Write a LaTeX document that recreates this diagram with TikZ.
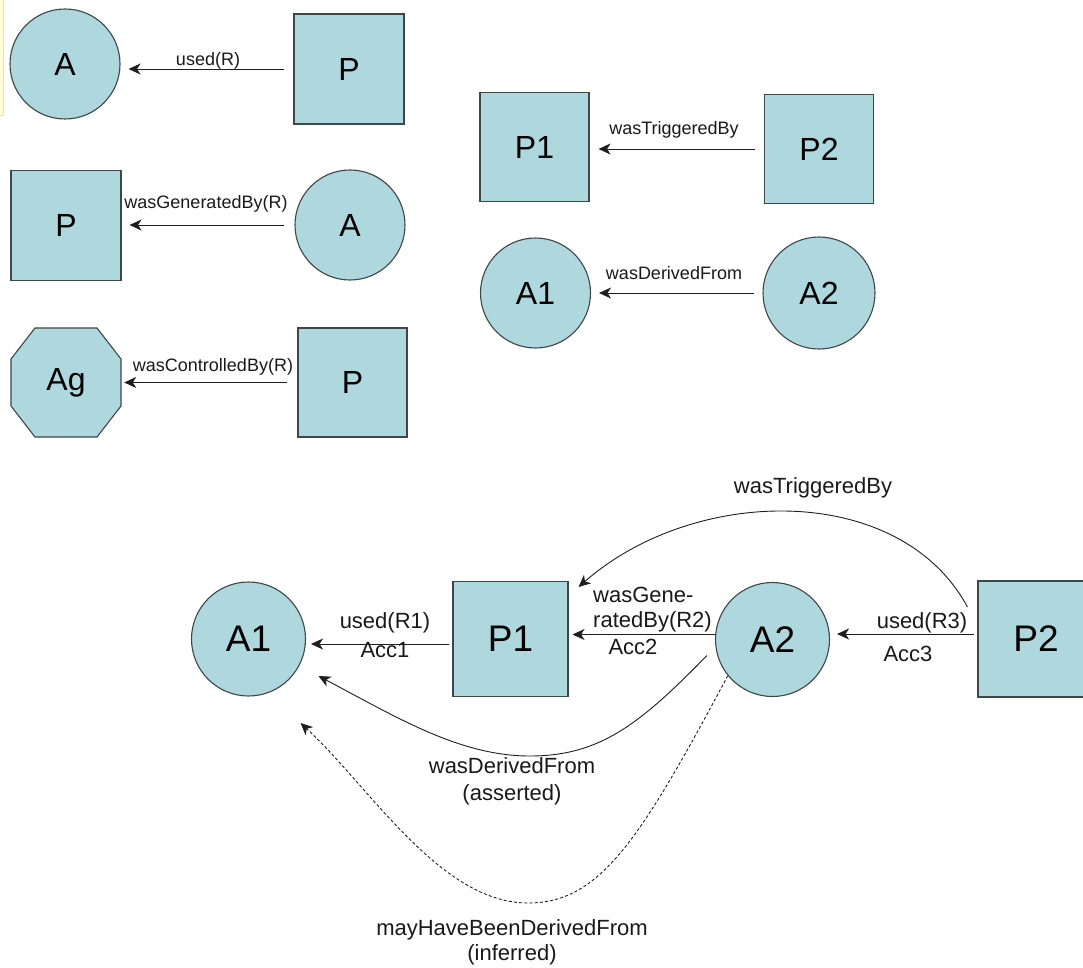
\documentclass[tikz,border=0pt]{standalone}
\usepackage{fontspec}
\setmainfont{Liberation Sans}
\usetikzlibrary{arrows.meta,calc}
\definecolor{nodefill}{RGB}{174,216,221}
\definecolor{nodeline}{RGB}{62,70,72}
\definecolor{edgeline}{RGB}{30,30,30}
\definecolor{noteyellow}{RGB}{255,252,214}
\definecolor{noteedge}{RGB}{242,230,140}

\tikzset{
  base/.style={draw=nodeline, fill=nodefill, line width=1.1pt, inner sep=0pt, text=black},
  art/.style={base, circle, minimum size=#1},
  proc/.style={base, rectangle, minimum width=#1, minimum height=#1},
  big/.style={font=\fontsize{32}{36}\selectfont},
  bigger/.style={font=\fontsize{37}{42}\selectfont},
  rel/.style={draw=edgeline, line width=0.9pt, -{Stealth[length=12pt,width=11pt,inset=3.5pt]}},
  guess/.style={rel, dash pattern=on 3pt off 2.2pt},
  lbl/.style={font=\fontsize{18}{22}\selectfont, inner sep=0pt, text=black!90},
  lblb/.style={font=\fontsize{22}{26}\selectfont, inner sep=0pt, text=black!90},
}

\begin{document}
\begin{tikzpicture}[x=1pt,y=-1pt]
\useasboundingbox (0,0) rectangle (1083,968);
\clip (0,0) rectangle (1083,968);

% thin note strip on the left edge
\fill[noteyellow] (0,0) rectangle (3,115);
\draw[noteedge, line width=0.8pt] (3,0) -- (3,115) -- (0,115);

% ---------- legend: single relations ----------
\node[art=110pt, big]  (tA)  at (65,64)    {A};
\node[proc=110pt, big] (tP)  at (349,69)   {P};
\draw[rel, shorten <=9pt, shorten >=8pt] (tP.west) -- (tP.west -| tA.east);
\node[lbl] at (208,61) {used(R)};

\node[proc=110pt, big] (tP2) at (66,225.5) {P};
\node[art=110pt, big]  (tA2) at (350,225)  {A};
\draw[rel, shorten <=10pt, shorten >=8pt] (tA2.west) -- (tA2.west -| tP2.east);
\node[lbl] at (206,204) {wasGeneratedBy(R)};

\filldraw[base, shift={(66,382.5)}]
  (-31,-54.5) -- (31,-54.5) -- (55,-23.5) -- (55,23.5) -- (31,54.5)
  -- (-31,54.5) -- (-55,23.5) -- (-55,-23.5) -- cycle;
\node[big, minimum width=110pt, minimum height=109pt, inner sep=0pt] (tAg) at (66,382.5) {Ag};
\node[proc=109pt, big] (tP3) at (352.5,382.5) {P};
\draw[rel, shorten <=10pt, shorten >=3pt] (tP3.west) -- (tP3.west -| tAg.east);
\node[lbl] at (213,367) {wasControlledBy(R)};

\node[proc=109pt, big] (rP1) at (534.5,147) {P1};
\node[proc=109pt, big] (rP2) at (819,149)   {P2};
\draw[rel, shorten <=9pt, shorten >=9pt] (rP2.west) -- (rP2.west -| rP1.east);
\node[lbl] at (674,130) {wasTriggeredBy};

\node[art=110pt, big] (rA1) at (535.5,293) {A1};
\node[art=112pt, big] (rA2) at (819,293)   {A2};
\draw[rel, shorten <=8pt, shorten >=8pt] (rA2.west) -- (rA2.west -| rA1.east);
\node[lbl] at (674,273) {wasDerivedFrom};

% ---------- combined example ----------
\node[art=114pt, bigger]  (bA1) at (248.5,639) {A1};
\node[proc=115pt, bigger] (bP1) at (510.5,639) {P1};
\node[art=114pt, bigger]  (bA2) at (772.5,639.5) {A2};
\node[proc=116pt, bigger] (bP2) at (1036,639)  {P2};

\coordinate (useOne) at ([shift={(0,5)}]bP1.west);
\draw[rel, shorten <=3pt, shorten >=5pt] (useOne) -- (useOne -| bA1.east);
\node[lblb] at (385,623) {used(R1)};
\node[lblb] at (385,650) {Acc1};

\coordinate (genTwo) at ([shift={(0,-5)}]bA2.west);
\draw[rel, shorten >=4pt] (genTwo) -- (genTwo -| bP1.east);
\node[lblb, anchor=north west, align=left, font=\fontsize{22}{25}\selectfont]
  at (593,587) {wasGene-\\ratedBy(R2)};
\node[lblb] at (633,647) {Acc2};

\coordinate (useThree) at ([shift={(0,-5)}]bP2.west);
\draw[rel, shorten <=3pt, shorten >=7pt] (useThree) -- (useThree -| bA2.east);
\node[lblb] at (922,623) {used(R3)};
\node[lblb] at (908,654) {Acc3};

% triggering arc over the chain
\coordinate (trigFrom) at ([shift={(-10,-32)}]bP2.west);
\coordinate (trigTo)   at ([shift={(10,-52)}]bP1.east);
\draw[rel] (trigFrom) .. controls (900,482) and (695,485) .. (trigTo);
\node[lblb] at (813,488) {wasTriggeredBy};

% asserted derivation
\coordinate (derFrom) at ([shift={(-8,16)}]bA2.west);
\coordinate (derTo)   at ([shift={(70,37)}]bA1.center);
\draw[rel] (derFrom) .. controls (640,724) and (600,756) .. (530,756)
  .. controls (460,756) and (398,718) .. (derTo);
\node[lblb, align=center, font=\fontsize{22}{27}\selectfont] at (512,781)
  {wasDerivedFrom\\(asserted)};

% inferred derivation
\coordinate (mayTo) at ([shift={(52,84)}]bA1.center);
\draw[guess] (bA2.219) .. controls (640,840) and (600,903) .. (528,903)
  .. controls (440,903) and (370,787) .. (mayTo);
\node[lblb, align=center, font=\fontsize{22}{25}\selectfont] at (512,942)
  {mayHaveBeenDerivedFrom\\(inferred)};
\end{tikzpicture}
\end{document}
